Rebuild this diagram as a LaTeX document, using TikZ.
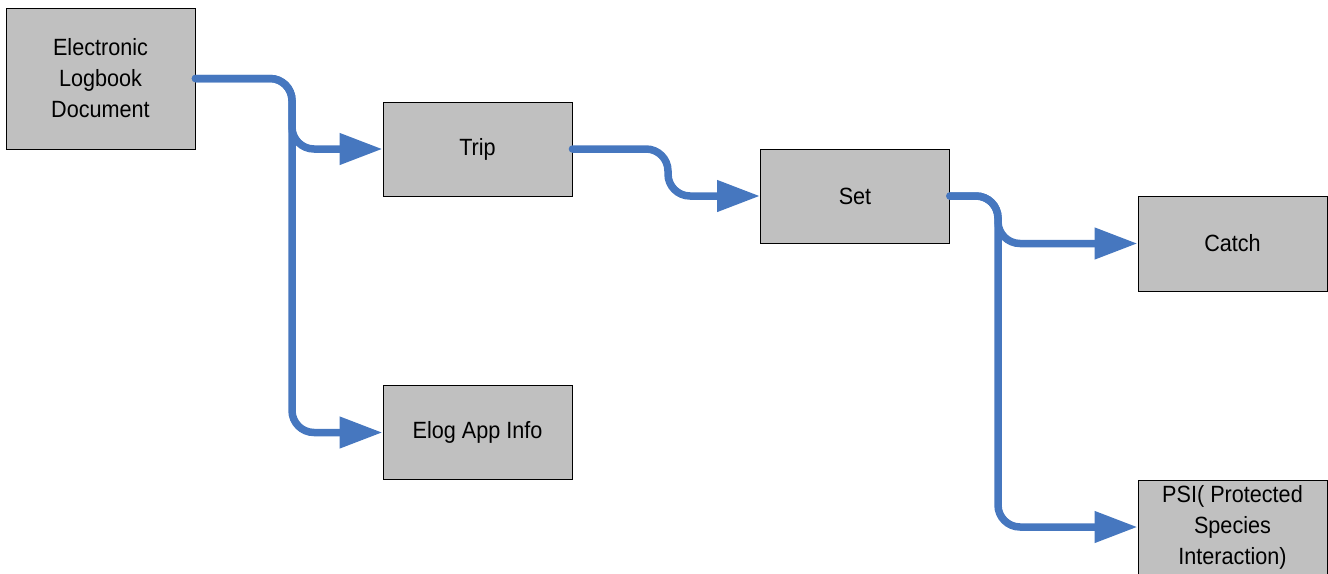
\documentclass[tikz,border=0pt]{standalone}
\usepackage{fontspec}
\setmainfont{Liberation Sans}
\newfontfamily\boxfont[FakeStretch=0.92]{Liberation Sans}
\usetikzlibrary{arrows.meta}
\definecolor{boxgray}{RGB}{192,192,192}
\definecolor{flowblue}{RGB}{70,119,191}
\begin{document}
\begin{tikzpicture}[x=1pt,y=-1pt,
  box/.style={draw=black,line width=0.9pt,fill=boxgray,minimum width=189pt,inner sep=0pt,
    align=center,font=\boxfont\fontsize{23.5pt}{31pt}\selectfont},
  flow/.style={draw=flowblue,line width=7.5pt,line cap=round,rounded corners=22pt,
    -{Triangle[length=43pt,width=30pt]}}]
\useasboundingbox (0,0) rectangle (1328,573);
\node[box,minimum height=141pt] (eld) at (100.5,78.5) {Electronic\\Logbook\\Document};
\node[box,minimum height=94pt] (trip) at (477.5,149) {Trip};
\node[box,minimum height=94pt] (elog) at (477.5,432.5) {Elog App Info};
\node[box,minimum height=94pt] (set) at (855,196) {Set};
\node[box,minimum height=95pt] (catch) at (1232.5,243.5) {Catch};
\node[box,minimum height=94pt] (psi) at (1232.5,527) {PSI( Protected\\Species\\Interaction)};
\draw[flow] (eld.east) -- (292,78.5) -- (292,432.5) -- (elog.west);
\draw[flow] (eld.east) -- (292,78.5) -- (292,149) -- (trip.west);
\draw[flow] (trip.east) -- (668,149) -- (668,196) -- (set.west);
\draw[flow] (set.east) -- (998,196) -- (998,527) -- (psi.west);
\draw[flow] (set.east) -- (998,196) -- (998,243.5) -- (catch.west);
\end{tikzpicture}
\end{document}
